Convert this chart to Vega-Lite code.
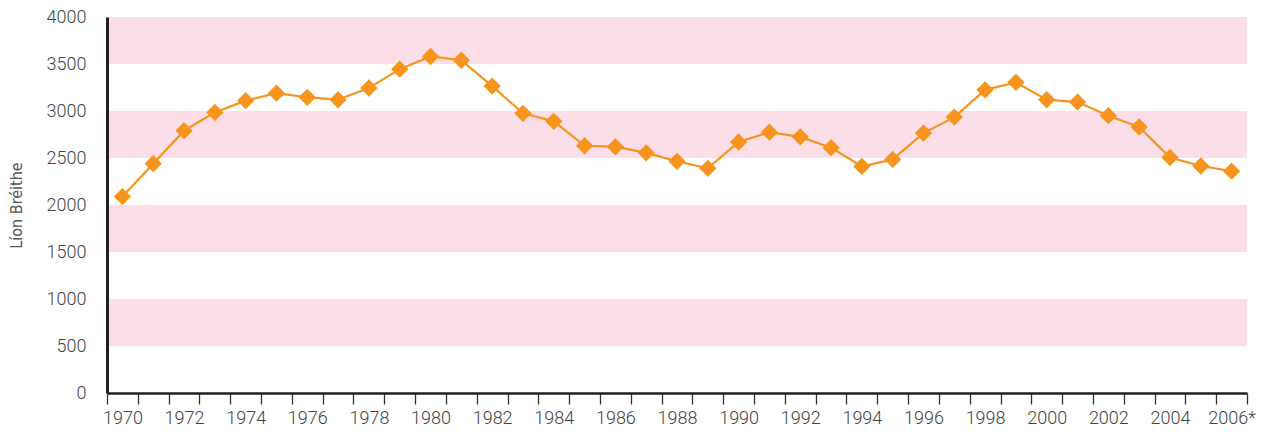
{
  "$schema": "https://vega.github.io/schema/vega-lite/v6.json",
  "width": 1140,
  "height": 376,
  "autosize": {"type": "none"},
  "padding": {"left": 107, "top": 17, "right": 19, "bottom": 42},
  "background": "white",
  "config": {"view": {"stroke": null}, "font": "Roboto"},
  "datasets": {
    "births": [
      {"year": "1970", "births": 2090},
      {"year": "1971", "births": 2440},
      {"year": "1972", "births": 2790},
      {"year": "1973", "births": 2985},
      {"year": "1974", "births": 3110},
      {"year": "1975", "births": 3190},
      {"year": "1976", "births": 3145},
      {"year": "1977", "births": 3120},
      {"year": "1978", "births": 3245},
      {"year": "1979", "births": 3445},
      {"year": "1980", "births": 3580},
      {"year": "1981", "births": 3540},
      {"year": "1982", "births": 3265},
      {"year": "1983", "births": 2975},
      {"year": "1984", "births": 2890},
      {"year": "1985", "births": 2630},
      {"year": "1986", "births": 2620},
      {"year": "1987", "births": 2555},
      {"year": "1988", "births": 2465},
      {"year": "1989", "births": 2390},
      {"year": "1990", "births": 2670},
      {"year": "1991", "births": 2775},
      {"year": "1992", "births": 2725},
      {"year": "1993", "births": 2610},
      {"year": "1994", "births": 2410},
      {"year": "1995", "births": 2485},
      {"year": "1996", "births": 2765},
      {"year": "1997", "births": 2935},
      {"year": "1998", "births": 3225},
      {"year": "1999", "births": 3305},
      {"year": "2000", "births": 3120},
      {"year": "2001", "births": 3095},
      {"year": "2002", "births": 2950},
      {"year": "2003", "births": 2830},
      {"year": "2004", "births": 2505},
      {"year": "2005", "births": 2415},
      {"year": "2006*", "births": 2360}
    ],
    "bands": [
      {"lo": 500, "hi": 1000},
      {"lo": 1500, "hi": 2000},
      {"lo": 2500, "hi": 3000},
      {"lo": 3500, "hi": 4000}
    ]
  },
  "layer": [
    {
      "data": {"name": "bands"},
      "mark": {"type": "rect", "color": "#fcdee9"},
      "encoding": {
        "y": {
          "field": "lo",
          "type": "quantitative",
          "scale": {"domain": [0, 4000], "nice": false},
          "axis": {
            "title": "Líon Bréithe",
            "titleFont": "DejaVu Sans Condensed",
            "titleFontSize": 16,
            "titleFontWeight": "normal",
            "titleColor": "#555555",
            "titlePadding": 22,
            "values": [0, 500, 1000, 1500, 2000, 2500, 3000, 3500, 4000],
            "format": "d",
            "ticks": false,
            "grid": false,
            "zindex": 1,
            "domainColor": "#231f20",
            "domainWidth": 3,
            "labelFontSize": 18,
            "labelFontWeight": 300,
            "labelColor": "#444444",
            "labelPadding": 21
          }
        },
        "y2": {"field": "hi"}
      }
    },
    {
      "data": {"name": "births"},
      "mark": {"type": "line", "color": "#f7941d", "strokeWidth": 2.2},
      "encoding": {
        "x": {
          "field": "year",
          "type": "ordinal",
          "sort": null,
          "bandPosition": 0.5,
          "scale": {"type": "band", "paddingInner": 0, "paddingOuter": 0},
          "axis": {
            "title": null,
            "labelAngle": 0,
            "tickBand": "extent",
            "labelExpr": "parseInt(datum.value) % 2 == 0 ? datum.value : ''",
            "zindex": 1,
            "domainColor": "#231f20",
            "domainWidth": 2.5,
            "tickColor": "#333333",
            "tickWidth": 1.3,
            "tickSize": 11,
            "labelFontSize": 18,
            "labelFontWeight": 300,
            "labelColor": "#444444",
            "labelPadding": 5,
            "labelOverlap": false,
            "grid": false
          }
        },
        "y": {"field": "births", "type": "quantitative"}
      }
    },
    {
      "data": {"name": "births"},
      "mark": {"type": "point", "shape": "diamond", "filled": true, "color": "#f7941d", "opacity": 1, "size": 300},
      "encoding": {
        "x": {"field": "year", "type": "ordinal", "sort": null, "bandPosition": 0.5},
        "y": {"field": "births", "type": "quantitative"}
      }
    }
  ]
}
